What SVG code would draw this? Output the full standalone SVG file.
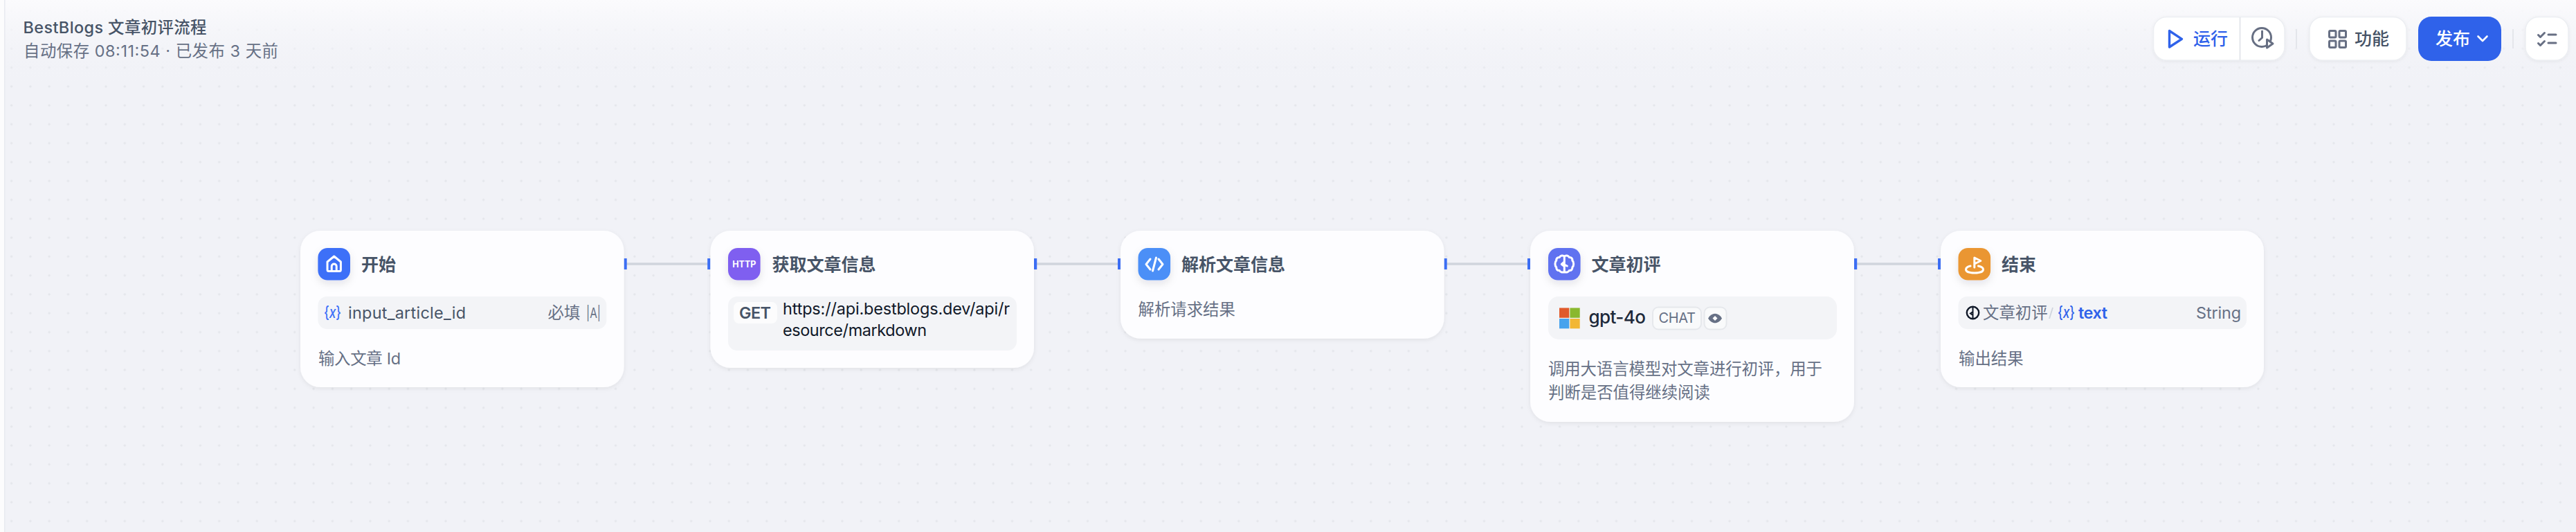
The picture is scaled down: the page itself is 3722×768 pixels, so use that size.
<svg xmlns="http://www.w3.org/2000/svg" width="3722" height="768" viewBox="0 0 3722 768">
<defs>
<pattern id="dots" x="16.6" y="15.7" width="27.28" height="27.28" patternUnits="userSpaceOnUse"><circle cx="0" cy="0" r="1.7" fill="#e4e6eb"/><circle cx="27.28" cy="0" r="1.7" fill="#e4e6eb"/><circle cx="0" cy="27.28" r="1.7" fill="#e4e6eb"/><circle cx="27.28" cy="27.28" r="1.7" fill="#e4e6eb"/></pattern>
<linearGradient id="top" x1="0" y1="0" x2="0" y2="1"><stop offset="0" stop-color="#fbfbfd"/><stop offset="1" stop-color="#f1f2f7" stop-opacity="0"/></linearGradient>
<filter id="card" x="-10%" y="-10%" width="120%" height="125%"><feDropShadow dx="0" dy="2" stdDeviation="3" flood-color="#101828" flood-opacity="0.07"/></filter>
<filter id="ic" x="-50%" y="-50%" width="200%" height="220%"><feDropShadow dx="0" dy="5" stdDeviation="6" flood-color="#101828" flood-opacity="0.1"/></filter>
<filter id="btn" x="-10%" y="-20%" width="120%" height="150%"><feDropShadow dx="0" dy="1" stdDeviation="2" flood-color="#101828" flood-opacity="0.06"/></filter>
</defs>
<style>
text{font-family:"Inter","Noto Sans CJK SC","Liberation Sans",sans-serif}
.card{fill:#fdfdff;filter:url(#card)}
.row{fill:#f3f4f7}
.ttl{font-size:25px;font-weight:600;fill:#475467}
.desc{font-size:23.4px;fill:#667085}
.ico{filter:url(#ic)}
.w{fill:none;stroke:#fff;stroke-width:3;stroke-linecap:round;stroke-linejoin:round}
.edge{stroke:#d0d5dd;stroke-width:3.5;fill:none}
.h{fill:#3d70f8}
.b{fill:#fff;stroke:#eceef2;stroke-width:1.5;filter:url(#btn)}
.sep{stroke:#e4e6eb;stroke-width:2}
.g{fill:none;stroke:#676f83;stroke-width:3;stroke-linecap:round;stroke-linejoin:round}
</style>

<rect width="3722" height="768" fill="#f1f2f7"/>
<rect x="7" width="3715" height="768" fill="url(#dots)"/>
<rect x="7" width="3715" height="125" fill="url(#top)"/>
<rect width="6" height="768" fill="#fcfcfd"/>
<rect x="6" width="1.5" height="768" fill="#e8eaf0"/>

<g id="connectors">
<path class="edge" d="M905 381H1023"/><path class="edge" d="M1497 381H1616"/><path class="edge" d="M2090 381H2208"/><path class="edge" d="M2682 381H2801"/>
<rect class="h" x="901.5" y="373" width="4.2" height="16"/><rect class="h" x="1022.2" y="373" width="4.2" height="16"/>
<rect class="h" x="1494" y="373" width="4.2" height="16"/><rect class="h" x="1615" y="373" width="4.2" height="16"/>
<rect class="h" x="2086.5" y="373" width="4.2" height="16"/><rect class="h" x="2207" y="373" width="4.2" height="16"/>
<rect class="h" x="2679" y="373" width="4.2" height="16"/><rect class="h" x="2800" y="373" width="4.2" height="16"/>
</g>

<g id="header">
<text x="33.5" y="48" font-size="23.4" font-weight="500" fill="#475467" textLength="265">BestBlogs 文章初评流程</text>
<text x="34" y="82" font-size="23.4" fill="#667085" textLength="368">自动保存 08:11:54 · 已发布 3 天前</text>
</g>

<g id="toolbar">
<rect class="b" x="3111.5" y="24.5" width="189.5" height="62.5" rx="19"/>
<path class="sep" d="M3236.5 25V87" stroke-width="1.5"/>
<path d="M3134.5 44.5v23.5l18-11.7z" fill="none" stroke="#2f62ea" stroke-width="3.4" stroke-linejoin="round"/>
<text x="3169" y="64.5" font-size="25" font-weight="500" fill="#2f62ea">运行</text>
<circle cx="3268" cy="54" r="13.5" class="g"/><path class="g" d="M3268.5 45v9.5l-4.5 4"/>
<path d="M3275.5 57v12l8.5-6z" fill="#fff" stroke="#676f83" stroke-width="3" stroke-linejoin="round"/>
<path class="sep" d="M3318 42V70"/>
<rect class="b" x="3337" y="24.5" width="140" height="62.5" rx="19"/>
<g class="g"><rect x="3365.5" y="44.5" width="9.5" height="9.5" rx="1.5"/><rect x="3380" y="44.5" width="9.5" height="9.5" rx="1.5"/><rect x="3365.5" y="59" width="9.5" height="9.5" rx="1.5"/><rect x="3380" y="59" width="9.5" height="9.5" rx="1.5"/></g>
<text x="3402" y="65" font-size="25" font-weight="500" fill="#475467">功能</text>
<rect x="3494" y="24" width="120" height="64" rx="19" fill="#2f62ea"/>
<text x="3519" y="65" font-size="25" font-weight="500" fill="#fff">发布</text>
<path d="M3580.5 52.5l6.5 6.5 6.5-6.5" fill="none" stroke="#fff" stroke-width="2.6" stroke-linecap="round" stroke-linejoin="round"/>
<path class="sep" d="M3631 42V70"/>
<rect class="b" x="3649" y="24.5" width="62" height="62.5" rx="19"/>
<path class="g" d="M3667.500 50.5l3 3 6-6M3667.500 62.5l3 3 6-6M3682 50h11M3682 62h11"/>
</g>

<g id="node-start">
<rect class="card" x="434" y="333" width="467.5" height="226" rx="29"/>
<rect class="ico" x="459.4" y="358" width="46.6" height="46.6" rx="14" fill="#3d6ff8"/>
<path class="w" d="M473 378l9.700-8 9.700 8v11.500a2 2 0 0 1-2 2h-15.400a2 2 0 0 1-2-2zM479.200 391.500v-7a3.500 3.500 0 0 1 7 0v7" stroke-width="2.6"/>
<text class="ttl" x="522" y="391">开始</text>
<rect class="row" x="459.4" y="428" width="417" height="47" rx="13"/>
<text x="468" y="459" font-size="23" font-weight="500" fill="#3d6ff8" textLength="25" lengthAdjust="spacingAndGlyphs">{<tspan font-style="italic">x</tspan>}</text>
<text x="503" y="460" font-size="23.4" fill="#475467" textLength="170">input_article_id</text>
<text x="791.5" y="460" font-size="23.4" fill="#667085">必填</text>
<text x="847" y="459" font-size="20" fill="#667085" textLength="21" lengthAdjust="spacingAndGlyphs">|A|</text>
<text class="desc" x="460" y="526" textLength="119">输入文章 Id</text>
</g>

<g id="node-http">
<rect class="card" x="1026.5" y="333" width="467.5" height="198" rx="29"/>
<rect class="ico" x="1052" y="358" width="46.6" height="46.6" rx="14" fill="#7f5ff0"/>
<text x="1075.3" y="386" font-size="12.5" font-weight="700" fill="#fff" text-anchor="middle">HTTP</text>
<text class="ttl" x="1115.5" y="391">获取文章信息</text>
<rect class="row" x="1052" y="428" width="417" height="78" rx="13"/>
<rect x="1060" y="436" width="63" height="31" rx="8" fill="#fcfcfd"/>
<text x="1068" y="459.5" font-size="23.4" font-weight="600" fill="#475467" textLength="46">GET</text>
<text x="1131" y="454" font-size="23.4" fill="#101828" textLength="328">https://api.bestblogs.dev/api/r</text>
<text x="1131" y="485" font-size="23.4" fill="#101828" textLength="208">esource/markdown</text>
</g>

<g id="node-code">
<rect class="card" x="1619" y="333" width="467.5" height="155.7" rx="29"/>
<rect class="ico" x="1644.5" y="358" width="46.6" height="46.6" rx="14" fill="#4b8ff7"/>
<path class="w" d="M1662 374l-6 7.500 6 7.500M1674 374l6 7.500-6 7.500M1670.500 372l-5 19" stroke-width="2.6"/>
<text class="ttl" x="1707" y="391">解析文章信息</text>
<text class="desc" x="1644.5" y="455">解析请求结果</text>
</g>

<g id="node-llm">
<rect class="card" x="2211" y="333" width="468" height="276" rx="29"/>
<rect class="ico" x="2237" y="358" width="46.6" height="46.6" rx="14" fill="#6172f0"/>
<path class="w" d="M2260.300 370c-2-2-6-1-7 1.500-3-.5-5 2-4.500 4.500-2.500 2-2.500 8 0 10-.5 2.500 1.500 5 4.500 4.500 1 2.500 5 3.500 7 1.500 2 2 6 1 7-1.500 3 .5 5-2 4.500-4.500 2.500-2 2.500-8 0-10 .5-2.500-1.500-5-4.500-4.500-1-2.500-5-3.500-7-1.500zv23M2260.300 378l-4 3.500 4 3M2260.300 382l4 2" stroke-width="2.6"/>
<text class="ttl" x="2299.5" y="391">文章初评</text>
<rect class="row" x="2237" y="428" width="417" height="62" rx="15"/>
<rect x="2253" y="444.5" width="14.3" height="14.3" fill="#e05a2b"/><rect x="2268.4" y="444.5" width="14.3" height="14.3" fill="#8ab82e"/>
<rect x="2253" y="460" width="14.3" height="14.3" fill="#47a3ed"/><rect x="2268.4" y="460" width="14.3" height="14.3" fill="#f2b735"/>
<text x="2295.5" y="467" font-size="26" font-weight="500" fill="#1d2939" textLength="82.5">gpt-4o</text>
<rect x="2388" y="443.5" width="70" height="32" rx="8" fill="#f9fafb" stroke="#e6e8ec" stroke-width="2"/>
<text x="2396.6" y="466" font-size="20" fill="#667085" textLength="53.400">CHAT</text>
<rect x="2462.5" y="443.5" width="32" height="32" rx="8" fill="#f9fafb" stroke="#e6e8ec" stroke-width="2"/>
<path d="M2468 459.500c5-9 15-9 20 0-5 9-15 9-20 0z" fill="#667085"/><path d="M2478 456l3.500 3.500-3.500 3.500-3.500-3.500z" fill="#f9fafb"/>
<text class="desc" x="2237" y="541" textLength="396">调用大语言模型对文章进行初评，用于</text>
<text class="desc" x="2237" y="575">判断是否值得继续阅读</text>
</g>

<g id="node-end">
<rect class="card" x="2804" y="333" width="467" height="226" rx="29"/>
<rect class="ico" x="2829.5" y="358" width="46.6" height="46.6" rx="14" fill="#ea9632"/>
<path class="w" d="M2852.800 386v-14l9 4.500-9 4.500M2847 384c-5 1-6.500 3-6.500 5 0 3 5 5 12.500 5s12.500-2 12.500-5c0-2-2-4-7-5" stroke-width="2.6"/>
<text class="ttl" x="2892" y="391">结束</text>
<rect class="row" x="2829.5" y="428" width="416.5" height="47" rx="13"/>
<circle cx="2850.5" cy="451.5" r="8.7" fill="none" stroke="#101828" stroke-width="2.4"/><path d="M2850.500 443v17M2850.500 450l-3.500 2.500 3.500 2.500" fill="none" stroke="#101828" stroke-width="2"/>
<text x="2865" y="460" font-size="23.4" fill="#667085">文章初评</text>
<path d="M2966 444l-5 16" stroke="#d0d5dd" stroke-width="1.8" fill="none"/>
<text x="2973" y="459" font-size="23" font-weight="500" fill="#2f62ea" textLength="25" lengthAdjust="spacingAndGlyphs">{<tspan font-style="italic">x</tspan>}</text>
<text x="3003" y="460" font-size="23.4" font-weight="600" fill="#2f62ea" textLength="42">text</text>
<text x="3173" y="460" font-size="23.4" fill="#667085" textLength="65">String</text>
<text class="desc" x="2830" y="526">输出结果</text>
</g>
</svg>
